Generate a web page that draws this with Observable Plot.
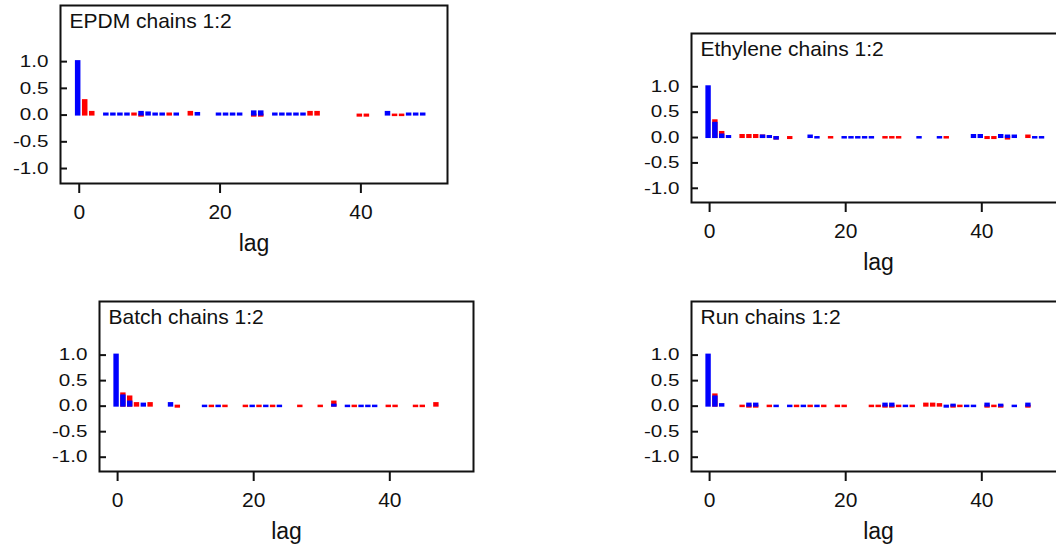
<!DOCTYPE html>
<html><head><meta charset="utf-8">
<script src="https://cdn.jsdelivr.net/npm/d3@7"></script>
<script src="https://cdn.jsdelivr.net/npm/@observablehq/plot@0.6"></script>
<style>
html,body{margin:0;padding:0;background:#fff;overflow:hidden;}
#chart{position:relative;width:1056px;height:549px;overflow:hidden;background:#fff;}
#chart > div{position:absolute;}
#chart svg{max-width:none !important;}
</style></head><body><div id="chart"></div>
<script>
const lagTicks = [0, 20, 40];
const acfTicks = [-1, -0.5, 0, 0.5, 1];
const panelTitles = ["EPDM chains 1:2", "Ethylene chains 1:2", "Batch chains 1:2", "Run chains 1:2"];

// autocorrelation by lag (index = lag 0..49); chain 1 = blue, chain 2 = red
const epdmChain1 = [1.0,0,0,0,0.02,0.02,0.02,0.02,0,0.05, 0.04,0.02,0.02,0,0.02,0,0,0.03,0,0, 0.02,0.02,0.02,0.02,0,0.06,0.06,0,0.02,0.02, 0.02,0.02,0.02,0,0,0,0,0,0,0, 0,0,0,0,0.05,0,0,0.02,0.02,0.02];
const epdmChain2 = [0,0.27,0.05,0,0,0,0,0,0.02,-0.02, 0,0,0,0.02,0,0,0.05,0,0,0, 0,0,0,0,0,-0.02,-0.02,0,0,0, 0,0,0,0.05,0.05,0,0,0,0,0, -0.02,-0.02,0,0,0,-0.01,-0.01,0,0,0];
const ethyleneChain1 = [1.0,0.28,0.05,0.02,0,0,0,0,0.03,0.02, -0.03,0,0,0,0,0.03,-0.01,0,0,0, -0.01,-0.01,-0.01,-0.01,-0.01,0,0,0,0,0, 0,-0.01,0,0,-0.01,0,0,0,0,0.04, 0.04,0,0,0.04,0.03,0.03,0,0,-0.01,-0.01];
const ethyleneChain2 = [0,0.33,0.10,0,0,0.04,0.04,0.04,0.03,0, -0.03,0,-0.02,0,0,0,0,0,-0.01,0, 0,0,0,0,0,0,-0.01,-0.01,-0.01,0, 0,0,0,0,0,-0.01,0,0,0,0, 0,-0.02,-0.02,0,-0.03,0,0,0.03,0,0];
const batchChain1 = [1.0,0.20,0.08,0,0.04,0,0,0,0.05,0, 0,0,0,-0.01,0,-0.01,0,0,0,0, -0.01,0,-0.01,0,-0.01,0,0,0,0,0, 0,0,0.02,0,-0.01,0,-0.01,-0.01,-0.01,0, 0,0,0,0,0,0,0,0,0,0];
const batchChain2 = [0,0.24,0.18,0.05,0,0.05,0,0,0,-0.02, 0,0,0,0,-0.01,0,-0.01,0,0,-0.01, 0,-0.01,0,-0.01,0,0,0,-0.01,0,0, -0.01,0,0.08,0,0,-0.01,0,0,0,0, -0.01,-0.01,0,0,-0.01,-0.01,0,0.05,0,0];
const runChain1 = [1.0,0.18,0.03,0,0,0,0.04,0.04,0,0, -0.01,0,-0.01,0,-0.01,0,-0.01,0,0,0, 0,0,0,0,0,0,0.04,0.04,0,-0.01, 0,0,0,0,0,-0.02,0.02,0,-0.01,-0.01, 0,0.04,0,0.02,0,-0.01,0,0.04,0,0];
const runChain2 = [0,0.22,0,0,0,-0.01,-0.02,-0.02,0,-0.01, 0,0,0,-0.01,0,-0.01,0,-0.01,0,-0.01, -0.01,0,0,0,-0.01,-0.01,-0.02,-0.02,-0.01,0, -0.01,0,0.04,0.04,0.03,0,-0.02,-0.01,0,0, 0,-0.02,-0.01,-0.02,0,0,0,-0.02,0,0];

const panels = [
  {title: panelTitles[0], c1: epdmChain1, c2: epdmChain2, frame: {left: 60, top: 5, right: 447, bottom: 183}},
  {title: panelTitles[1], c1: ethyleneChain1, c2: ethyleneChain2, frame: {left: 691, top: 33, right: 1065, bottom: 202}},
  {title: panelTitles[2], c1: batchChain1, c2: batchChain2, frame: {left: 99, top: 301, right: 473, bottom: 471}},
  {title: panelTitles[3], c1: runChain1, c2: runChain2, frame: {left: 691, top: 301, right: 1065, bottom: 471}}
];

const M = {left: 60, top: 5, right: 10, bottom: 90};
const chart = document.getElementById("chart");

for (const p of panels) {
  const toRows = arr => arr.map((v, i) => ({lag: i, acf: v})).filter(d => d.acf !== 0);
  const blue = toRows(p.c1), red = toRows(p.c2);
  const f = p.frame;
  const w = f.right - f.left + M.left + M.right;
  const h = f.bottom - f.top + M.top + M.bottom;
  const barOpts = c => ({x1: d => d.lag - 0.4, x2: d => d.lag + 0.1, y1: 0, y2: "acf", fill: c, stroke: c, strokeWidth: 2});
  const svg = Plot.plot({
    width: w, height: h,
    marginLeft: M.left, marginTop: M.top, marginRight: M.right, marginBottom: M.bottom,
    style: {fontFamily: "'Liberation Sans', Arial, sans-serif", color: "#111", background: "#fff", overflow: "visible", maxWidth: "none"},
    x: {domain: [-2.66, 52.3]},
    y: {domain: [-1.28, 2.05]},
    marks: [
      Plot.rect(red, barOpts("#ff0000")),
      Plot.rect(blue, barOpts("#0000ff")),
      Plot.frame({stroke: "#111", strokeWidth: 2}),
      Plot.axisX({ticks: lagTicks, tickSize: 10, tickPadding: 11, strokeWidth: 2, fontSize: 21, label: null}),
      Plot.axisY({ticks: acfTicks, tickSize: -7, tickPadding: 19, strokeWidth: 2, fontSize: 16.5, tickFormat: d => d.toFixed(1), label: null}),
      Plot.text([p.title], {frameAnchor: "top-left", dx: 9, dy: 8, lineAnchor: "top", textAnchor: "start", fontSize: 21}),
      Plot.text(["lag"], {frameAnchor: "bottom", dy: 51, lineAnchor: "top", fontSize: 23})
    ]
  });
  svg.style.maxWidth = "none";
  svg.setAttribute("width", w);
  svg.setAttribute("height", h);
  svg.querySelectorAll('[aria-label="y-axis tick label"] text').forEach(t => {
    const tr = t.getAttribute("transform");
    if (tr) t.setAttribute("transform", tr + " scale(1.25,1)");
  });
  const holder = document.createElement("div");
  holder.style.left = (f.left - M.left) + "px";
  holder.style.top = (f.top - M.top) + "px";
  holder.style.width = w + "px";
  holder.style.height = h + "px";
  holder.appendChild(svg);
  chart.appendChild(holder);
}
</script>
</body></html>
